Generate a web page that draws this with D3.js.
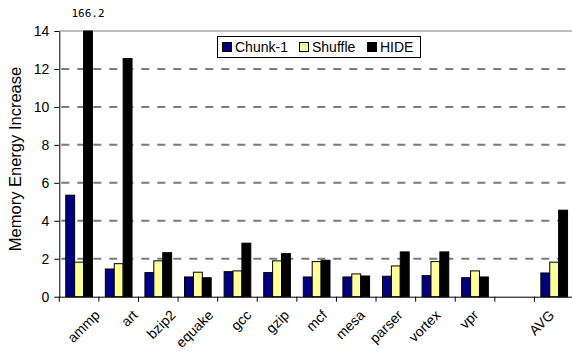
<!DOCTYPE html>
<html>
<head>
<meta charset="utf-8">
<script src="https://cdn.jsdelivr.net/npm/d3@7"></script>
<style>
  html, body { margin: 0; padding: 0; background: #fff; }
  svg { display: block; font-family: "Liberation Sans", Arial, sans-serif; }
</style>
</head>
<body>
<svg id="chart" width="572" height="351"></svg>
<script>
// Benchmarks (a blank slot separates the individual programs from the average)
const categories = ["ammp", "art", "bzip2", "equake", "gcc", "gzip", "mcf", "mesa", "parser", "vortex", "vpr", " ", "AVG"];
const seriesNames = ["Chunk-1", "Shuffle", "HIDE"];
const chunk1  = [5.35, 1.46, 1.27, 1.04, 1.32, 1.27, 1.04, 1.04, 1.08, 1.11, 1.00, null, 1.25];
const shuffle = [1.82, 1.74, 1.89, 1.29, 1.36, 1.89, 1.85, 1.20, 1.62, 1.85, 1.36, null, 1.82];
const hide    = [166.2, 12.55, 2.32, 1.00, 2.82, 2.27, 1.92, 1.09, 2.36, 2.36, 1.04, null, 4.56];
const yTicks = [0, 2, 4, 6, 8, 10, 12, 14];
const yMax = 14;
const colors = ["#000080", "#FFFF99", "#000000"];

const svg = d3.select("#chart");
const plotLeft = 59.3, plotRight = 574, plotTop = 31, plotBottom = 296.7;

const x = d3.scaleBand().domain(categories).range([plotLeft, plotRight]).paddingInner(0).paddingOuter(0);
const xs = d3.scaleBand().domain(seriesNames).range([0, x.bandwidth()]).paddingInner(0).paddingOuter(0.725);
const y = d3.scaleLinear().domain([0, yMax]).range([plotBottom, plotTop]);
// category label anchors (labels sit on a slightly tighter spacing than the bars)
const xLabel = d3.scalePoint().domain(categories).range([100.7, 555.1]);

// gridlines
svg.append("g").selectAll("line")
  .data(yTicks.filter(t => t > 0 && t < yMax))
  .join("line")
  .attr("x1", plotLeft).attr("x2", 572)
  .attr("y1", d => y(d)).attr("y2", d => y(d))
  .attr("stroke", "#7a7a7a").attr("stroke-width", 2)
  .attr("stroke-dasharray", "8,8").attr("stroke-dashoffset", -2);
svg.append("line")
  .attr("x1", plotLeft).attr("x2", 572)
  .attr("y1", y(yMax)).attr("y2", y(yMax))
  .attr("stroke", "#808080").attr("stroke-width", 1);

// bars
const series = [chunk1, shuffle, hide];
const rows = [];
series.forEach((vals, si) => vals.forEach((v, ci) => {
  if (v != null) rows.push({ cat: categories[ci], s: seriesNames[si], v, si });
}));
svg.append("g").selectAll("rect")
  .data(rows)
  .join("rect")
  .attr("x", d => x(d.cat) + xs(d.s))
  .attr("width", xs.bandwidth())
  .attr("y", d => y(Math.min(d.v, yMax)))
  .attr("height", d => plotBottom - y(Math.min(d.v, yMax)))
  .attr("fill", d => colors[d.si])
  .attr("stroke", "#000").attr("stroke-width", 1);

// value label for the clipped bar
rows.filter(d => d.v > yMax).forEach(d => {
  svg.append("text")
    .attr("x", x(d.cat) + xs(d.s) + xs.bandwidth() / 2)
    .attr("y", 17)
    .attr("text-anchor", "middle")
    .style("font-family", "'DejaVu Sans Mono', monospace")
    .style("font-size", "11px")
    .text(d.v.toFixed(1));
});

// y axis
const yAxis = svg.append("g")
  .attr("transform", `translate(${plotLeft},0)`)
  .call(d3.axisLeft(y).tickValues(yTicks).tickSize(5).tickPadding(5).tickSizeOuter(0));
yAxis.select(".domain").attr("stroke", "#000");
yAxis.selectAll(".tick line").attr("stroke", "#000");
yAxis.selectAll("text").style("font-size", "14px").style("font-family", "'Liberation Sans', Arial, sans-serif").attr("fill", "#000");

// x axis line and boundary ticks
const xAxis = svg.append("g")
  .attr("transform", `translate(0,${plotBottom})`)
  .call(d3.axisBottom(x).tickSize(0).tickFormat(""));
xAxis.select(".domain").attr("stroke", "#000");
svg.append("g").selectAll("line")
  .data(categories)
  .join("line")
  .attr("x1", d => x(d)).attr("x2", d => x(d))
  .attr("y1", plotBottom).attr("y2", plotBottom + 5)
  .attr("stroke", "#000");

// category labels, slanted 45 degrees upward
svg.append("g").selectAll("text")
  .data(categories)
  .join("text")
  .attr("transform", d => `translate(${xLabel(d)},316) rotate(-45)`)
  .attr("text-anchor", "end")
  .style("font-size", "14px")
  .text(d => d.trim());

// y axis title
svg.append("text")
  .attr("transform", `translate(21,159) rotate(-90)`)
  .attr("text-anchor", "middle")
  .style("font-size", "16.5px")
  .text("Memory Energy Increase");

// legend
const lg = svg.append("g");
lg.append("rect")
  .attr("x", 217.5).attr("y", 36.5).attr("width", 203).attr("height", 21)
  .attr("fill", "#fff").attr("stroke", "#000");
const legendX = [222, 299, 367];
seriesNames.forEach((name, i) => {
  lg.append("rect")
    .attr("x", legendX[i] + 0.5).attr("y", 42.5).attr("width", 9).attr("height", 9)
    .attr("fill", colors[i]).attr("stroke", "#000");
  lg.append("text")
    .attr("x", legendX[i] + 13).attr("y", 52)
    .style("font-size", "14px")
    .text(name);
});
</script>
</body>
</html>
